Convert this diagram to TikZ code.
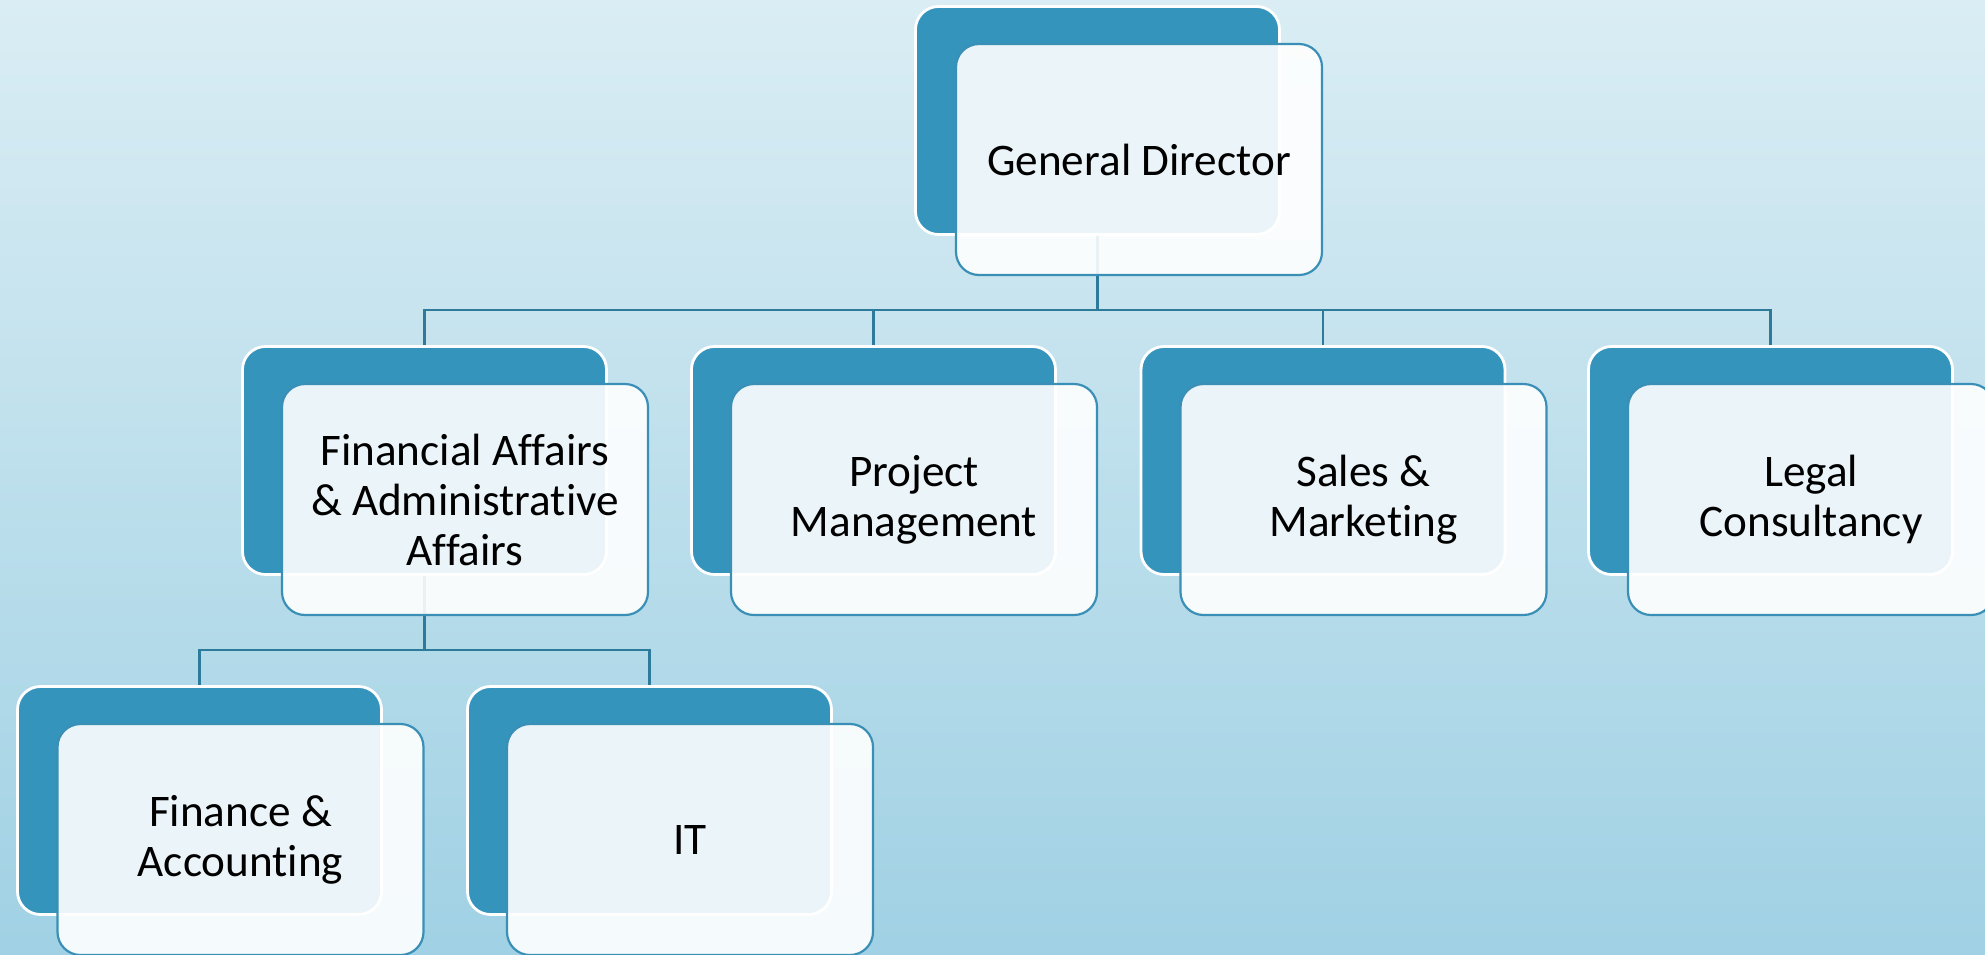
\documentclass[tikz,border=0pt]{standalone}
\usepackage{fontspec}
\setmainfont{Carlito}[Ligatures={NoCommon}]
\definecolor{bgtop}{HTML}{DAEDF4}
\definecolor{bgbot}{HTML}{A0D1E4}
\definecolor{darkfill}{HTML}{3594BC}
\definecolor{lightborder}{HTML}{3A8FB7}
\definecolor{conncol}{HTML}{2E7A9A}
\begin{document}
\begin{tikzpicture}[x=0.5pt,y=-0.5pt,
  darkbox/.style={draw=white, line width=1.4pt, fill=darkfill, rounded corners=11.5pt,
    minimum width=182pt, minimum height=114pt, inner sep=0pt},
  lightbox/.style={draw=lightborder, line width=1.1pt, fill=white, fill opacity=0.9, text opacity=1,
    rounded corners=11.5pt, minimum width=183pt, minimum height=115.5pt, inner sep=0pt,
    align=center, font=\fontsize{22.6}{25}\selectfont, text=black},
  conn/.style={draw=conncol, line width=1.3pt}]
\useasboundingbox (0,0) rectangle (1985,954);
\shade[top color=bgtop, bottom color=bgbot] (0,0) rectangle (1985,954);
\coordinate (bus1) at (0,310);
\coordinate (bus2) at (0,650);
% dark (back) boxes
\node[darkbox] (gdD) at (1097.5,120.5) {};
\node[darkbox] (faD) at (424.5,460.5) {};
\node[darkbox] (pmD) at (873.5,460.5) {};
\node[darkbox] (smD) at (1323,460.5) {};
\node[darkbox] (lcD) at (1770.5,460.5) {};
\node[darkbox] (fnD) at (199.5,800.5) {};
\node[darkbox] (itD) at (649.5,800.5) {};
% connectors
\draw[conn] (gdD.south) -- (gdD.south |- bus1);
\draw[conn] (faD.north) -- (faD.north |- bus1) -| (lcD.north);
\draw[conn] (pmD.north) -- (pmD.north |- bus1);
\draw[conn] (smD.north) -- (smD.north |- bus1);
\draw[conn] (faD.south) -- (faD.south |- bus2);
\draw[conn] (fnD.north) -- (fnD.north |- bus2) -| (itD.north);
% front boxes
\node[lightbox] (gd) at (1139,159.5) {General Director};
\node[lightbox] (fa) at (465,499.5) {Financial Affairs\\\& Administrative\\Affairs};
\node[lightbox] (pm) at (914,499.5) {Project\\Management};
\node[lightbox] (sm) at (1363.5,499.5) {Sales \&\\Marketing};
\node[lightbox] (lc) at (1811,499.5) {Legal\\Consultancy};
\node[lightbox] (fn) at (240.5,839.5) {Finance \&\\Accounting};
\node[lightbox] (it) at (690,839.5) {IT};
\end{tikzpicture}
\end{document}
